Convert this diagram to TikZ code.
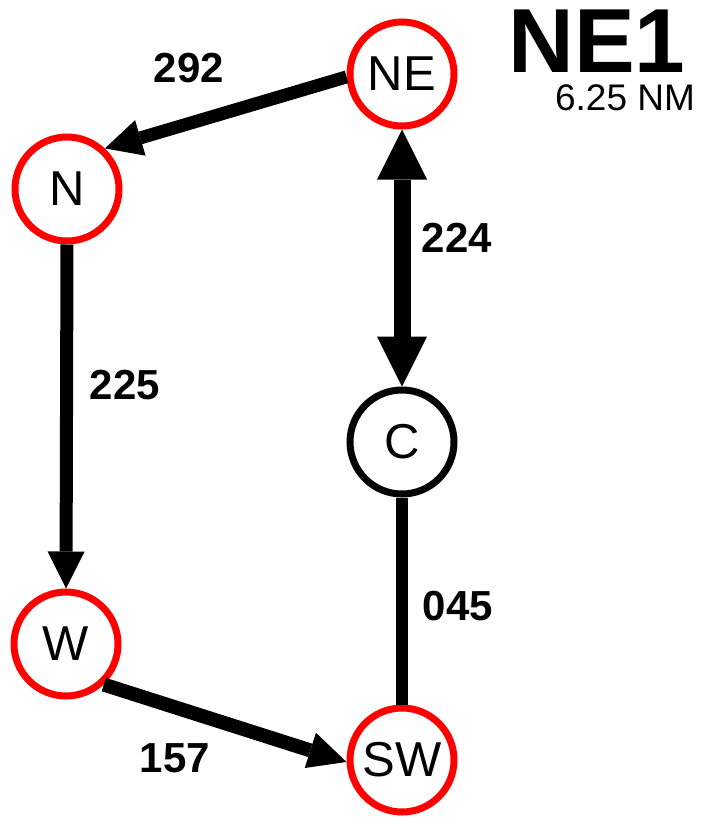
\documentclass[tikz,border=0pt]{standalone}
\usepackage{fontspec}
\setmainfont{Liberation Sans}
\usetikzlibrary{arrows.meta}
\begin{document}
\begin{tikzpicture}[x=1pt,y=1pt,
  wpt/.style={circle,draw=red,line width=7pt,inner sep=0pt,minimum size=104pt,
    font=\fontsize{49}{49}\selectfont},
  cpt/.style={wpt,draw=black},
  leg/.style={line width=13pt,draw=black},
  tipA/.style={-{Triangle[length=37pt,width=37pt,line width=0pt]}},
  lbl/.style={anchor=base,inner sep=0pt,font=\fontsize{42}{42}\selectfont\bfseries}]
\useasboundingbox (0,0) rectangle (712,-820);
\node[wpt] (NE) at (402,-74) {NE};
\node[wpt] (N) at (67,-189) {N};
\node[cpt] (C) at (402,-442) {C};
\node[wpt] (W) at (66,-644) {W};
\node[wpt] (SW) at (402,-760) {SW};
\node[anchor=base,inner sep=0pt,text depth=0pt,font=\fontsize{91}{91}\selectfont\bfseries] (T) at (597,-72) {NE1};
\node[anchor=base,inner sep=0pt,font=\fontsize{37}{37}\selectfont] (D) at (625,-110) {6.25 NM};
\draw[leg,tipA] (NE.183) -- (N.47);
\draw[leg,tipA] (N.south) -- (W.north);
\draw[leg,line width=17pt,{Triangle[length=50pt,width=50pt,line width=0pt]}-{Triangle[length=50pt,width=50pt,line width=0pt]}] (NE.south) -- (C.north);
\draw[leg,line width=12pt] (C.south) -- (SW.north);
\draw[leg,line width=14pt,-{Triangle[length=38pt,width=37pt,line width=0pt]}] (W.313) -- (SW.182);
\node[lbl] (l292) at (189,-82) {292};
\node[lbl] (l224) at (457,-252) {224};
\node[lbl] (l225) at (125,-399) {225};
\node[lbl] (l045) at (458,-620) {045};
\node[lbl] (l157) at (175,-772) {157};
\end{tikzpicture}
\end{document}
